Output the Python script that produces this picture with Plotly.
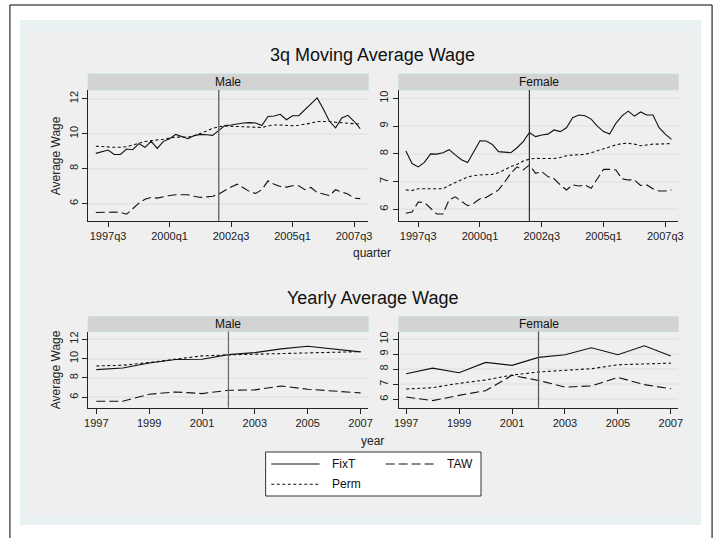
import plotly.graph_objects as go

W, H = 722, 538

# ---------------- data ----------------
# quarterly 3q moving averages, 1997q1 .. 2007q4 (Stata quarterly index: 1960q1 = 0)
years_q = list(range(1997, 2008))
quarters = [(y - 1960) * 4 + q for y in years_q for q in range(4)]
q_tickvals = [150, 160, 170, 180, 190]
q_ticktext = ["1997q3", "2000q1", "2002q3", "2005q1", "2007q3"]

male_q_fixt = [8.87, 8.97, 9.06, 8.81, 8.81, 9.12, 9.08, 9.43, 9.22, 9.56, 9.16, 9.56, 9.71, 9.96, 9.85,
               9.71, 9.89, 9.96, 9.94, 9.90, 10.19, 10.46, 10.50, 10.57, 10.61, 10.63, 10.61, 10.46, 10.98,
               11.01, 11.11, 10.80, 11.03, 11.03, 11.38, 11.72, 12.05, 11.41, 10.71, 10.33, 10.90, 11.05,
               10.71, 10.29]
male_q_perm = [9.28, 9.25, 9.22, 9.22, 9.22, 9.25, 9.35, 9.45, 9.55, 9.60, 9.62, 9.68, 9.75, 9.80, 9.80,
               9.80, 9.88, 10.00, 10.15, 10.30, 10.40, 10.44, 10.42, 10.40, 10.38, 10.35, 10.33, 10.35,
               10.45, 10.50, 10.50, 10.48, 10.45, 10.48, 10.52, 10.60, 10.70, 10.72, 10.70, 10.65, 10.62,
               10.62, 10.60, 10.55]
male_q_taw = [5.49, 5.51, 5.53, 5.51, 5.49, 5.39, 5.70, 6.02, 6.25, 6.35, 6.31, 6.40, 6.46, 6.50, 6.52,
              6.50, 6.42, 6.35, 6.38, 6.42, 6.54, 6.75, 6.95, 7.11, 6.88, 6.69, 6.58, 6.79, 7.30, 7.11,
              6.98, 6.94, 7.02, 7.02, 6.79, 6.92, 6.63, 6.54, 6.46, 6.79, 6.65, 6.54, 6.31, 6.28]

female_q_fixt = [8.10, 7.65, 7.53, 7.69, 8.00, 7.99, 8.04, 8.15, 7.96, 7.79, 7.69, 8.08, 8.47, 8.46, 8.34,
                 8.08, 8.05, 8.04, 8.22, 8.44, 8.77, 8.62, 8.68, 8.71, 8.86, 8.80, 8.94, 9.30, 9.40, 9.37,
                 9.25, 9.00, 8.80, 8.71, 9.10, 9.37, 9.54, 9.36, 9.51, 9.40, 9.40, 8.94, 8.71, 8.52]
female_q_perm = [6.70, 6.68, 6.74, 6.75, 6.74, 6.74, 6.74, 6.86, 6.98, 7.07, 7.16, 7.22, 7.24, 7.24, 7.26,
                 7.32, 7.43, 7.54, 7.62, 7.74, 7.81, 7.84, 7.83, 7.83, 7.83, 7.87, 7.93, 7.96, 7.97, 7.98,
                 8.04, 8.11, 8.20, 8.26, 8.32, 8.37, 8.38, 8.35, 8.29, 8.32, 8.35, 8.35, 8.37, 8.37]
female_q_taw = [5.86, 5.90, 6.26, 6.25, 6.04, 5.83, 5.83, 6.34, 6.45, 6.28, 6.13, 6.22, 6.38, 6.43, 6.58,
                6.70, 6.98, 7.30, 7.53, 7.42, 7.60, 7.30, 7.36, 7.18, 7.10, 6.88, 6.70, 6.88, 6.84, 6.88,
                6.76, 7.12, 7.44, 7.44, 7.42, 7.10, 7.06, 7.06, 6.86, 6.88, 6.74, 6.66, 6.66, 6.70]

# yearly averages
years = [1997, 1998, 1999, 2000, 2001, 2002, 2003, 2004, 2005, 2006, 2007]
y_tickvals = [1997, 1999, 2001, 2003, 2005, 2007]
male_y_fixt = [8.86, 9.03, 9.55, 9.90, 9.93, 10.41, 10.62, 11.00, 11.28, 11.00, 10.69]
male_y_perm = [9.24, 9.31, 9.59, 9.93, 10.28, 10.38, 10.45, 10.52, 10.62, 10.69, 10.72]
male_y_taw = [5.59, 5.59, 6.31, 6.55, 6.38, 6.72, 6.76, 7.17, 6.83, 6.62, 6.45]
female_y_fixt = [7.70, 8.07, 7.76, 8.45, 8.25, 8.78, 8.96, 9.42, 8.96, 9.55, 8.87]
female_y_perm = [6.68, 6.77, 7.06, 7.28, 7.61, 7.81, 7.92, 8.03, 8.29, 8.34, 8.40]
female_y_taw = [6.15, 5.91, 6.26, 6.57, 7.59, 7.25, 6.81, 6.88, 7.45, 6.97, 6.70]

break_q = 168      # 2002q1
break_y = 2002

series_names = ["FixT", "TAW", "Perm"]

# ---------------- styling ----------------
FONT = "Liberation Sans, Arial, sans-serif"
DASH = {"FixT": "solid", "TAW": "9px,4px", "Perm": "3px,2.5px"}
LW = 1.1


def X(px):
    return px / W


def Y(py):
    return 1 - py / H


fig = go.Figure()

panels = [
    ("x", "y", quarters, [male_q_fixt, male_q_taw, male_q_perm]),
    ("x2", "y2", quarters, [female_q_fixt, female_q_taw, female_q_perm]),
    ("x3", "y3", years, [male_y_fixt, male_y_taw, male_y_perm]),
    ("x4", "y4", years, [female_y_fixt, female_y_taw, female_y_perm]),
]
for xa, ya, xs, ys in panels:
    for name, vals in zip(series_names, ys):
        fig.add_trace(go.Scatter(x=xs, y=vals, mode="lines", name=name, xaxis=xa, yaxis=ya,
                                 line=dict(color="#111111", width=LW, dash=DASH[name]),
                                 showlegend=False, hoverinfo="skip"))

axis_common = dict(showline=True, linecolor="#222222", linewidth=1, ticks="outside", ticklen=5,
                   tickcolor="#222222", tickwidth=1, zeroline=False, mirror=False,
                   tickfont=dict(family=FONT, size=11, color="#222222"))

xdom_m = [X(84.3), X(368.3)]
xdom_f = [X(399.3), X(682.7)]
ydom_top = [Y(221), Y(90)]
ydom_bot = [Y(407.7), Y(331.5)]

layout = dict(
    width=W, height=H, margin=dict(l=0, r=0, t=0, b=0),
    paper_bgcolor="white", plot_bgcolor="white", showlegend=False,
    xaxis=dict(domain=xdom_m, range=[146.75, 192.3], tickvals=q_tickvals, ticktext=q_ticktext,
               showgrid=False, anchor="y", **axis_common),
    xaxis2=dict(domain=xdom_f, range=[146.85, 192.1], tickvals=q_tickvals, ticktext=q_ticktext,
                showgrid=False, anchor="y2", **axis_common),
    xaxis3=dict(domain=xdom_m, range=[1996.69, 2007.29], tickvals=y_tickvals,
                showgrid=False, anchor="y3", **axis_common),
    xaxis4=dict(domain=xdom_f, range=[1996.72, 2007.28], tickvals=y_tickvals,
                showgrid=False, anchor="y4", **axis_common),
    yaxis=dict(domain=ydom_top, range=[5.0, 12.5], tickvals=[6, 8, 10, 12], tickangle=-90,
               showgrid=True, gridcolor="#E6E6E6", gridwidth=1.5, anchor="x", **axis_common),
    yaxis2=dict(domain=ydom_top, range=[5.58, 10.3], tickvals=[6, 7, 8, 9, 10], tickangle=-90,
                showgrid=True, gridcolor="#E6E6E6", gridwidth=1.5, anchor="x2", **axis_common),
    yaxis3=dict(domain=ydom_bot, range=[4.92, 12.8], tickvals=[6, 8, 10, 12], tickangle=-90,
                showgrid=True, gridcolor="#E6E6E6", gridwidth=1.5, anchor="x3", **axis_common),
    yaxis4=dict(domain=ydom_bot, range=[5.44, 10.5], tickvals=[6, 7, 8, 9, 10], tickangle=-90,
                showgrid=True, gridcolor="#E6E6E6", gridwidth=1.5, anchor="x4", **axis_common),
)
fig.update_layout(**layout)

shapes = []
# background regions
shapes.append(dict(type="rect", xref="paper", yref="paper", x0=X(5), x1=X(717), y0=Y(545), y1=Y(5),
                   fillcolor="white", line=dict(color="black", width=1), layer="below"))
shapes.append(dict(type="rect", xref="paper", yref="paper", x0=X(15), x1=X(706), y0=Y(525), y1=Y(20),
                   fillcolor="#EAF1F3", line=dict(width=0), layer="below"))
shapes.append(dict(type="rect", xref="paper", yref="paper", x0=X(23), x1=X(699), y0=Y(515), y1=Y(31),
                   fillcolor="#EFEFEF", line=dict(width=0), layer="below"))

# strips
strips = [(84.3, 368.3, 74, 90, "Male"), (399.3, 682.7, 74, 90, "Female"),
          (84.3, 368.3, 316.7, 331.5, "Male"), (399.3, 682.7, 316.7, 331.5, "Female")]
annotations = []
for x0, x1, y0, y1, lab in strips:
    shapes.append(dict(type="rect", xref="paper", yref="paper", x0=X(x0), x1=X(x1), y0=Y(y1), y1=Y(y0),
                       fillcolor="#D3D3D3", line=dict(color="#C9DCE0", width=1)))
    annotations.append(dict(x=X((x0 + x1) / 2), y=Y((y0 + y1) / 2), xref="paper", yref="paper",
                            text=lab, showarrow=False, xanchor="center", yanchor="middle",
                            font=dict(family=FONT, size=12, color="#111111")))

# vertical break lines
for xa, ya, xv, col in [("x", "y", break_q, "#555555"), ("x2", "y2", break_q, "#333333"),
                        ("x3", "y3", break_y, "#666666"), ("x4", "y4", break_y, "#555555")]:
    shapes.append(dict(type="line", xref=xa, yref=ya + " domain", x0=xv, x1=xv, y0=0, y1=1,
                       line=dict(color=col, width=1.2)))

# titles
annotations.append(dict(x=X(373), y=Y(55), xref="paper", yref="paper", text="3q Moving Average Wage",
                        showarrow=False, xanchor="center", yanchor="middle",
                        font=dict(family=FONT, size=18, color="#111111")))
annotations.append(dict(x=X(373), y=Y(298), xref="paper", yref="paper", text="Yearly Average Wage",
                        showarrow=False, xanchor="center", yanchor="middle",
                        font=dict(family=FONT, size=18, color="#111111")))
# axis titles
for yc in (156, 370):
    annotations.append(dict(x=X(52), y=Y(yc), xref="paper", yref="paper", text="Average Wage",
                            showarrow=False, textangle=-90, xanchor="center", yanchor="middle",
                            font=dict(family=FONT, size=12, color="#222222")))
annotations.append(dict(x=X(372.5), y=Y(253), xref="paper", yref="paper", text="quarter",
                        showarrow=False, xanchor="center", yanchor="middle",
                        font=dict(family=FONT, size=12, color="#222222")))
annotations.append(dict(x=X(372.5), y=Y(441), xref="paper", yref="paper", text="year",
                        showarrow=False, xanchor="center", yanchor="middle",
                        font=dict(family=FONT, size=12, color="#222222")))

# legend box
shapes.append(dict(type="rect", xref="paper", yref="paper", x0=X(264.3), x1=X(482.7), y0=Y(496), y1=Y(452),
                   fillcolor="white", line=dict(color="#333333", width=1)))
legend_items = [("FixT", 270, 319, 464, 330), ("TAW", 386, 435, 464, 446), ("Perm", 270, 320, 484.3, 330)]
for name, lx0, lx1, ly, tx in legend_items:
    shapes.append(dict(type="line", xref="paper", yref="paper", x0=X(lx0), x1=X(lx1), y0=Y(ly), y1=Y(ly),
                       line=dict(color="#111111", width=LW, dash=DASH[name])))
    annotations.append(dict(x=X(tx), y=Y(ly), xref="paper", yref="paper", text=name, showarrow=False,
                            xanchor="left", yanchor="middle",
                            font=dict(family=FONT, size=12, color="#111111")))

fig.update_layout(shapes=shapes, annotations=annotations)
fig.write_html("out.html")
